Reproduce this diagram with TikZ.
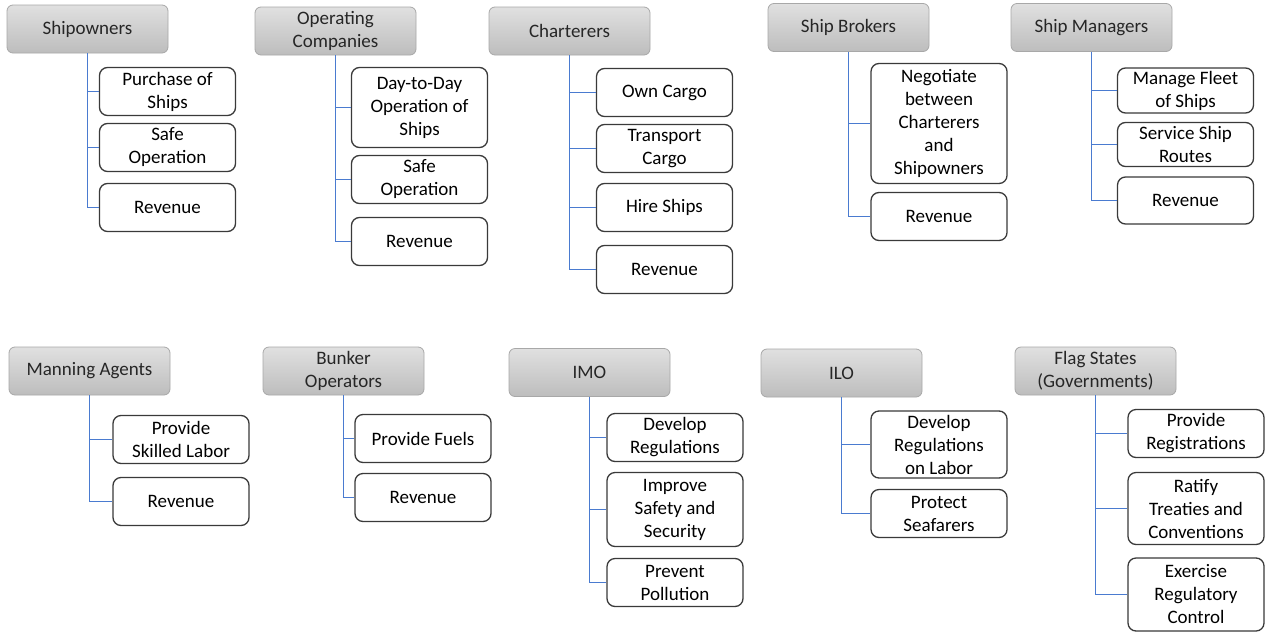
\documentclass[tikz,border=0pt]{standalone}
\usepackage{fontspec}
\setmainfont{Carlito}
\usepackage{tikz}
\usepackage{xcolor}
\usetikzlibrary{
    calc,
    positioning
}
\definecolor{hdtop}{HTML}{E0E0E0}
\definecolor{hdbot}{HTML}{BDBDBD}
\definecolor{hdline}{HTML}{A8A8A8}
\definecolor{itemline}{HTML}{3A3A3A}
\definecolor{linkblue}{HTML}{4A7BD0}

\tikzset{
    head/.style={draw=hdline, line width=0.8pt, top color=hdtop, bottom color=hdbot,
        rounded corners=6pt, minimum width=161pt, minimum height=48pt,
        inner sep=0pt, align=center, text=black!85},
    task/.style={draw=itemline, line width=1.3pt, fill=white, rounded corners=8pt,
        minimum width=136pt, minimum height=48pt, inner sep=0pt, align=center},
    link/.style={draw=linkblue, line width=1.2pt}
}

\begin{document}
\begin{tikzpicture}[x=1pt, y=-1pt, font=\fontsize{19}{23}\selectfont]
                        \useasboundingbox[fill=white] (0, 0) rectangle (1265, 632);

                        % top row
                        \node[head] (own) at (87.5, 29) {Shipowners};
                        \node[task] (own1) at (167.5, 91.5) {Purchase of\\Ships};
                        \node[task] (own2) at (167.5, 147.5) {Safe\\Operation};
                        \node[task] (own3) at (167.5, 207.5) {Revenue};

                        \node[head] (ops) at (335.5, 31) {Operating\\Companies};
                        \node[task, minimum height=80pt] (ops1) at (419.5, 107.5) {Day-to-Day\\Operation of\\Ships};
                        \node[task] (ops2) at (419.5, 179.5) {Safe\\Operation};
                        \node[task] (ops3) at (419.5, 241.5) {Revenue};

                        \node[head] (cht) at (569.5, 31) {Charterers};
                        \node[task] (cht1) at (664.5, 92.5) {Own Cargo};
                        \node[task] (cht2) at (664.5, 148.5) {Transport\\Cargo};
                        \node[task] (cht3) at (664.5, 207.5) {Hire Ships};
                        \node[task] (cht4) at (664.5, 269.5) {Revenue};

                        \node[head] (brk) at (848.5, 27.5) {Ship Brokers};
                        \node[task, minimum height=120pt] (brk1) at (939, 123.5) {Negotiate\\between\\Charterers\\and\\Shipowners};
                        \node[task] (brk2) at (939, 216.5) {Revenue};

                        \node[head] (mgr) at (1091.5, 27.5) {Ship Managers};
                        \node[task, minimum height=45pt] (mgr1) at (1185.5, 90.5) {Manage Fleet\\of Ships};
                        \node[task, minimum height=44pt] (mgr2) at (1185.5, 144.5) {Service Ship\\Routes};
                        \node[task, minimum height=47pt] (mgr3) at (1185.5, 200.5) {Revenue};

                        % bottom row
                        \node[head] (man) at (89.5, 371) {Manning Agents};
                        \node[task] (man1) at (181, 439.5) {Provide\\Skilled Labor};
                        \node[task] (man2) at (181, 501.5) {Revenue};

                        \node[head] (bnk) at (343.5, 371) {Bunker\\Operators};
                        \node[task] (bnk1) at (423, 438.5) {Provide Fuels};
                        \node[task] (bnk2) at (423, 497.5) {Revenue};

                        \node[head] (imo) at (589.5, 372.5) {IMO};
                        \node[task] (imo1) at (675, 437.5) {Develop\\Regulations};
                        \node[task, minimum height=74pt] (imo2) at (675, 509.5) {Improve\\Safety and\\Security};
                        \node[task] (imo3) at (675, 582.5) {Prevent\\Pollution};

                        \node[head] (ilo) at (841.5, 373) {ILO};
                        \node[task, minimum height=67pt] (ilo1) at (939, 444.5) {Develop\\Regulations\\on Labor};
                        \node[task] (ilo2) at (939, 513.5) {Protect\\Seafarers};

                        \node[head] (flg) at (1095.5, 371) {Flag States\\(Governments)};
                        \node[task] (flg1) at (1196, 433.5) {Provide\\Registrations};
                        \node[task, minimum height=72pt] (flg2) at (1196, 508.5) {Ratify\\Treaties and\\Conventions};
                        \node[task, minimum height=73pt] (flg3) at (1196, 594.5) {Exercise\\Regulatory\\Control};

                        % connectors
                        \foreach \grp/\last in {own/3, ops/3, cht/4, brk/2, mgr/3, man/2, bnk/2, imo/3, ilo/2, flg/3}
                            \foreach \i in {1,...,\last}
                                \draw[link] (\grp.south) |- (\grp\i.west);
                    \end{tikzpicture}
\end{document}
